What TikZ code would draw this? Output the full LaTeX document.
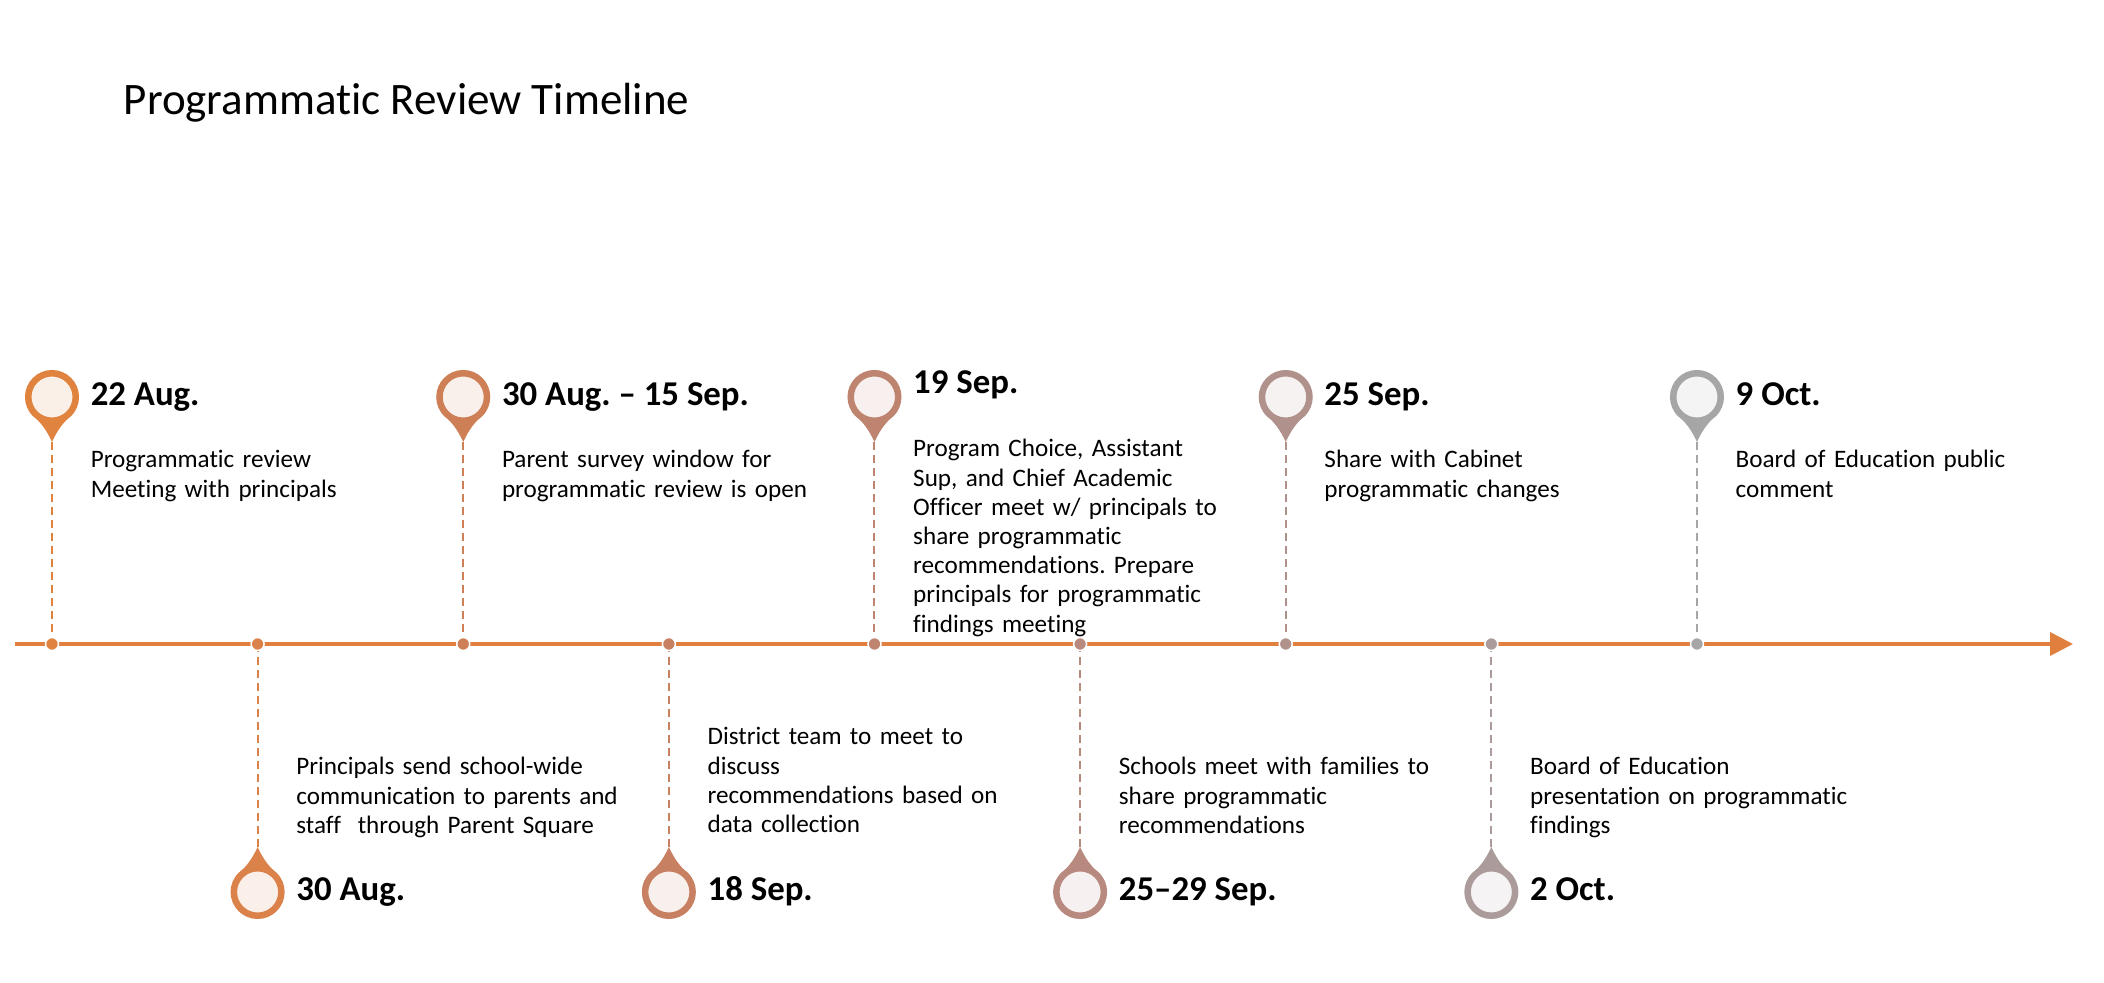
\documentclass[tikz,border=0pt]{standalone}
\usepackage{fontspec}
\setmainfont{Carlito}[Ligatures=NoCommon]
\usepackage{tikz}
\usetikzlibrary{arrows.meta}
\usetikzlibrary{backgrounds}
\usetikzlibrary{positioning}
\usetikzlibrary{calc}
\definecolor{track}{HTML}{E07F3E}
\definecolor{c1}{HTML}{E0833F}
\definecolor{c2}{HTML}{DA8249}
\definecolor{c3}{HTML}{CF7F56}
\definecolor{c4}{HTML}{C88063}
\definecolor{c5}{HTML}{BF8470}
\definecolor{c6}{HTML}{B8897E}
\definecolor{c7}{HTML}{B1918C}
\definecolor{c8}{HTML}{AB9B9A}
\definecolor{c9}{HTML}{A6A6A6}
\tikzset{every picture/.style={line width=1pt}}
\frenchspacing
\begin{document}
\begin{tikzpicture}[x=0.01cm,y=0.01cm,node distance=2.055cm,
  pinhead/.style={circle, inner sep=0pt, minimum size=0.475cm, line width=0.065cm, draw=#1, fill=#1!12!white},
  dot/.style={circle, inner sep=0pt, minimum size=0.13cm, line width=0.015cm, draw=white, fill=#1},
  guide/.style={draw=#1, line width=0.02cm, dash pattern=on 0.08cm off 0.05cm},
  when/.style={anchor=base west, inner sep=0pt, font=\bfseries\fontsize{9.9}{11}\selectfont},
  what/.style={anchor=base west, inner sep=0pt, text width=5cm, align=left, font=\fontsize{7.15}{8.3}\selectfont}]
\useasboundingbox (0,0) rectangle (2104,982);
\node (title) [anchor=base west, inner sep=0pt, font=\fontsize{12.8}{15}\selectfont] at (122,867) {Programmatic Review Timeline};

% the time line
\coordinate (start) at (15,338);
\coordinate (end) at (2073,338);
\draw[-{Triangle[length=0.23cm,width=0.23cm]},track] (start) -- (end);
\node (d1) [dot=c1] at (52,338) {};
\node (d2) [dot=c2, right of=d1] {};
\node (d3) [dot=c3, right of=d2] {};
\node (d4) [dot=c4, right of=d3] {};
\node (d5) [dot=c5, right of=d4] {};
\node (d6) [dot=c6, right of=d5] {};
\node (d7) [dot=c7, right of=d6] {};
\node (d8) [dot=c8, right of=d7] {};
\node (d9) [dot=c9, right of=d8] {};

% pins above
\node (p1) at ($(d1)+(0,247)$) [pinhead=c1] {};
\node (p3) at ($(d3)+(0,247)$) [pinhead=c3] {};
\node (p5) at ($(d5)+(0,247)$) [pinhead=c5] {};
\node (p7) at ($(d7)+(0,247)$) [pinhead=c7] {};
\node (p9) at ($(d9)+(0,247)$) [pinhead=c9] {};
\coordinate (t1) at ($(p1)+(0,-45)$);
\coordinate (t3) at ($(p3)+(0,-45)$);
\coordinate (t5) at ($(p5)+(0,-45)$);
\coordinate (t7) at ($(p7)+(0,-45)$);
\coordinate (t9) at ($(p9)+(0,-45)$);

% pins below
\node (p2) at ($(d2)+(0,-248)$) [pinhead=c2] {};
\node (p4) at ($(d4)+(0,-248)$) [pinhead=c4] {};
\node (p6) at ($(d6)+(0,-248)$) [pinhead=c6] {};
\node (p8) at ($(d8)+(0,-248)$) [pinhead=c8] {};
\coordinate (t2) at ($(p2)+(0,45)$);
\coordinate (t4) at ($(p4)+(0,45)$);
\coordinate (t6) at ($(p6)+(0,45)$);
\coordinate (t8) at ($(p8)+(0,45)$);

% dates
\node (w1) at ($(p1)+(37,-9)$) [when] {22 Aug.};
\node (w2) at ($(p2)+(37,-8)$) [when] {30 Aug.};
\node (w3) at ($(p3)+(37,-9)$) [when] {30 Aug. – 15 Sep.};
\node (w4) at ($(p4)+(37,-8)$) [when] {18 Sep.};
\node (w5) at ($(p5)+(37,3)$) [when] {19 Sep.};
\node (w6) at ($(p6)+(37,-8)$) [when] {25–29 Sep.};
\node (w7) at ($(p7)+(37,-9)$) [when] {25 Sep.};
\node (w8) at ($(p8)+(37,-8)$) [when] {2 Oct.};
\node (w9) at ($(p9)+(37,-9)$) [when] {9 Oct.};

% what happens
\node (n1) at ($(p1)+(37,-71)$) [what] {Programmatic review\\Meeting with principals};
\node (n2) at ($(p2)+(37,117)$) [what] {Principals send school-wide\\communication to parents and\\staff~ through Parent Square};
\node (n3) at ($(p3)+(37,-71)$) [what] {Parent survey window for\\programmatic review is open};
\node (n4) at ($(p4)+(37,147)$) [what] {District team to meet to\\discuss\\recommendations based on\\data collection};
\node (n5) at ($(p5)+(37,-60)$) [what] {Program Choice, Assistant\\Sup, and Chief Academic\\Officer meet w/ principals to\\share programmatic\\recommendations. Prepare\\principals for programmatic\\findings meeting};
\node (n6) at ($(p6)+(37,117)$) [what] {Schools meet with families to\\share programmatic\\recommendations};
\node (n7) at ($(p7)+(37,-71)$) [what] {Share with Cabinet\\programmatic changes};
\node (n8) at ($(p8)+(37,117)$) [what] {Board of Education\\presentation on programmatic\\findings};
\node (n9) at ($(p9)+(37,-71)$) [what] {Board of Education public\\comment};

\begin{scope}[on background layer]
\fill[c1] (t1) to[bend left=12] (p1.-37) -- (p1.-143) to[bend left=12] (t1);
\fill[c3] (t3) to[bend left=12] (p3.-37) -- (p3.-143) to[bend left=12] (t3);
\fill[c5] (t5) to[bend left=12] (p5.-37) -- (p5.-143) to[bend left=12] (t5);
\fill[c7] (t7) to[bend left=12] (p7.-37) -- (p7.-143) to[bend left=12] (t7);
\fill[c9] (t9) to[bend left=12] (p9.-37) -- (p9.-143) to[bend left=12] (t9);
\fill[c2] (t2) to[bend right=12] (p2.37) -- (p2.143) to[bend right=12] (t2);
\fill[c4] (t4) to[bend right=12] (p4.37) -- (p4.143) to[bend right=12] (t4);
\fill[c6] (t6) to[bend right=12] (p6.37) -- (p6.143) to[bend right=12] (t6);
\fill[c8] (t8) to[bend right=12] (p8.37) -- (p8.143) to[bend right=12] (t8);
\draw[guide=c1] (t1) -- (d1);
\draw[guide=c2] (t2) -- (d2);
\draw[guide=c3] (t3) -- (d3);
\draw[guide=c4] (t4) -- (d4);
\draw[guide=c5] (t5) -- (d5);
\draw[guide=c6] (t6) -- (d6);
\draw[guide=c7] (t7) -- (d7);
\draw[guide=c8] (t8) -- (d8);
\draw[guide=c9] (t9) -- (d9);
\end{scope}
\end{tikzpicture}
\end{document}
